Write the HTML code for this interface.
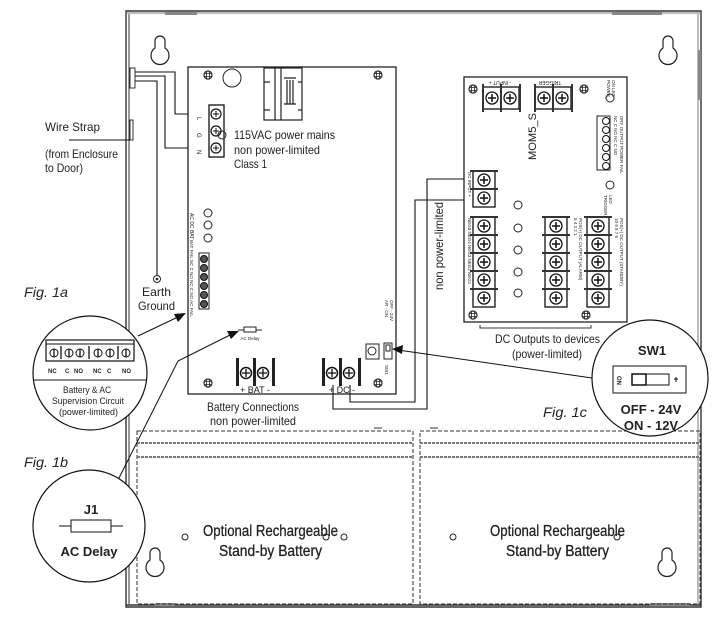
<!DOCTYPE html>
<html><head><meta charset="utf-8"><style>
html,body{margin:0;padding:0;background:#fff;}
svg{display:block;}
text{font-family:"Liberation Sans",sans-serif;fill:#222;}
</style></head><body>
<svg width="728" height="624" viewBox="0 0 728 624" xmlns="http://www.w3.org/2000/svg">
<defs>
<g id="t">
<rect x="0" y="0" width="22" height="18" fill="#fff" stroke="#111" stroke-width="1.3"/>
<rect x="-3" y="-1" width="28" height="2" fill="#333"/>
<circle cx="11" cy="9" r="6" fill="#fff" stroke="#111" stroke-width="1.3"/>
<path d="M7 9h8M11 5v8" stroke="#111" stroke-width="1.5"/>
</g>
<g id="tv">
<rect x="0" y="0" width="18" height="22" fill="#fff" stroke="#111" stroke-width="1.3"/>
<rect x="-1" y="-3" width="2" height="28" fill="#333"/>
<circle cx="9" cy="11" r="6" fill="#fff" stroke="#111" stroke-width="1.3"/>
<path d="M5 11h8M9 7v8" stroke="#111" stroke-width="1.5"/>
</g>
<g id="kh"><path d="M-5 -4 A5 5 0 0 1 5 -4 L5 3 A9 9 0 1 1 -5 3 Z" fill="none" stroke="#222" stroke-width="1.2"/></g>
<g id="scr"><circle r="4" fill="none" stroke="#222" stroke-width="1.2"/><path d="M-3 -1.5h6M-3 1.5h6M-1.5 -3v6M1.5 -3v6" stroke="#222" stroke-width="0.8"/></g>
</defs>

<!-- enclosure -->
<g fill="none" stroke="#333">
<path d="M126 11 H701 V607 H126 Z" stroke-width="1.4"/>
<path d="M129 14 V604" stroke-width="1"/>
<path d="M126 13 H701" stroke-width="1" stroke="#777"/>
<path d="M126 605 H701" stroke-width="1.5"/>
<path d="M698 14 V604" stroke-width="1" stroke="#777"/>
</g>
<rect x="165" y="12" width="32" height="3" fill="#888"/>
<rect x="612" y="12" width="50" height="3" fill="#888"/>
<rect x="698" y="50" width="3" height="50" fill="#888"/>
<rect x="130" y="68" width="5" height="20" fill="none" stroke="#333"/>
<rect x="130" y="120" width="3" height="20" fill="none" stroke="#333"/>
<rect x="155" y="603" width="20" height="3" fill="#888"/>
<rect x="650" y="603" width="40" height="3" fill="#888"/>
<use href="#kh" x="160" y="45"/>
<use href="#kh" x="668" y="45"/>
<use href="#kh" x="155" y="557"/>
<use href="#kh" x="667" y="557"/>

<!-- wires to mains -->
<g fill="none" stroke="#111" stroke-width="1.1">
<path d="M135 72 H175 V114 H207"/>
<path d="M135 76 H165 V148 H207"/>
<path d="M135 81 H157 V276"/>
<path d="M69 140 H130"/>
</g>
<circle cx="157" cy="279" r="3.5" fill="none" stroke="#222"/><circle cx="157" cy="279" r="1.3" fill="#222"/>
<text x="45" y="131" font-size="12" textLength="55" lengthAdjust="spacingAndGlyphs">Wire Strap</text>
<text x="45" y="158" font-size="12" textLength="73" lengthAdjust="spacingAndGlyphs">(from Enclosure</text>
<text x="45" y="172" font-size="12" textLength="38" lengthAdjust="spacingAndGlyphs">to Door)</text>
<text x="142" y="296" font-size="12" textLength="29" lengthAdjust="spacingAndGlyphs">Earth</text>
<text x="138" y="310" font-size="12" textLength="37" lengthAdjust="spacingAndGlyphs">Ground</text>

<!-- main PCB -->
<rect x="188" y="67" width="208" height="327" fill="#fff" stroke="#222" stroke-width="1.3"/>
<use href="#scr" x="208" y="75"/><use href="#scr" x="378" y="75"/>
<use href="#scr" x="208" y="383"/><use href="#scr" x="378" y="383"/>
<circle cx="232" cy="78" r="9" fill="none" stroke="#222"/>
<g fill="none" stroke="#222" stroke-width="1.2">
<rect x="264" y="68" width="38" height="52"/>
<path d="M275 68V120M281 68V120M270 82H264M302 82H298M270 110H264M302 110H298"/>
<path d="M284 78H296M284 104H296M287 80V104M290 80V104M293 80V104"/>
</g>
<rect x="209" y="105" width="15" height="52" fill="#fff" stroke="#111" stroke-width="1.3"/>
<g fill="#fff" stroke="#111" stroke-width="1.2">
<circle cx="216" cy="114" r="5"/><circle cx="216" cy="131" r="5"/><circle cx="216" cy="148" r="5"/></g>
<path d="M213 114h6M216 111v6M213 131h6M216 128v6M213 148h6M216 145v6" stroke="#111"/>
<circle cx="222" cy="135" r="4" fill="none" stroke="#222"/>
<text x="197" y="117" font-size="6" transform="rotate(90 197 117)">L</text>
<text x="197" y="133" font-size="6" transform="rotate(90 197 133)">G</text>
<text x="197" y="150" font-size="6" transform="rotate(90 197 150)">N</text>
<text x="234" y="139" font-size="12" textLength="101" lengthAdjust="spacingAndGlyphs">115VAC power mains</text>
<text x="234" y="154" font-size="12" textLength="86" lengthAdjust="spacingAndGlyphs">non power-limited</text>
<text x="234" y="168" font-size="12" textLength="33" lengthAdjust="spacingAndGlyphs">Class 1</text>
<circle cx="208" cy="213" r="4" fill="none" stroke="#222"/>
<circle cx="208" cy="225" r="4" fill="none" stroke="#222"/>
<circle cx="208" cy="238" r="4" fill="none" stroke="#222"/>
<text x="190" y="213" font-size="5" transform="rotate(90 190 213)">AC DC BAT</text>
<text x="190" y="240" font-size="4.5" transform="rotate(90 190 240)">BAT FAIL  NC C NO NC C NO AC FAIL</text>
<rect x="199" y="253" width="10" height="56" fill="#fff" stroke="#222"/>
<g fill="#555" stroke="#111"><circle cx="204" cy="259" r="3.5"/><circle cx="204" cy="268" r="3.5"/><circle cx="204" cy="277" r="3.5"/><circle cx="204" cy="286" r="3.5"/><circle cx="204" cy="295" r="3.5"/><circle cx="204" cy="304" r="3.5"/></g>
<path d="M238 330H244M256 330H262" stroke="#222"/>
<rect x="244" y="327" width="12" height="5" fill="#fff" stroke="#222"/>
<text x="250" y="340" font-size="4.5" text-anchor="middle">AC Delay</text>
<g fill="#222"><rect x="236" y="358" width="3" height="28"/><rect x="253" y="358" width="3" height="28"/><rect x="272" y="358" width="3" height="28"/>
<rect x="322" y="358" width="3" height="28"/><rect x="339" y="358" width="3" height="28"/><rect x="358" y="358" width="3" height="28"/></g>
<g fill="#fff" stroke="#111" stroke-width="1.5"><circle cx="246" cy="373" r="5.5"/><circle cx="263" cy="373" r="5.5"/><circle cx="332" cy="373" r="5.5"/><circle cx="349" cy="373" r="5.5"/></g>
<path d="M242 373h8M246 369v8M259 373h8M263 369v8M328 373h8M332 369v8M345 373h8M349 369v8" stroke="#111" stroke-width="1.3"/>
<text x="255" y="393" font-size="9" text-anchor="middle">+ BAT -</text>
<text x="342" y="393" font-size="9" text-anchor="middle">+ DC -</text>
<text x="207" y="411" font-size="12" textLength="92" lengthAdjust="spacingAndGlyphs">Battery Connections</text>
<text x="210" y="425" font-size="12" textLength="86" lengthAdjust="spacingAndGlyphs">non power-limited</text>
<rect x="366" y="344" width="13" height="15" fill="#fff" stroke="#222"/><circle cx="372" cy="351" r="4" fill="none" stroke="#222"/>
<rect x="384" y="343" width="8" height="16" fill="#fff" stroke="#222"/><rect x="386" y="345" width="4" height="6" fill="none" stroke="#222"/>
<text x="385" y="300" font-size="4.5" transform="rotate(90 385 300)">AR - ON</text>
<text x="390" y="300" font-size="4.5" transform="rotate(90 390 300)">OFF - 24V</text>
<text x="385" y="365" font-size="4.5" transform="rotate(90 385 365)">SW1</text>

<!-- DC wires -->
<g fill="none" stroke="#111" stroke-width="1.1">
<path d="M333 385 V409 H427 V179 H470"/>
<path d="M350 385 V402 H415 V200 H470"/>
</g>
<text x="443" y="290" font-size="12" transform="rotate(-90 443 290)" textLength="88" lengthAdjust="spacingAndGlyphs">non power-limited</text>

<!-- MOM5 board -->
<rect x="464" y="77" width="163" height="245" fill="#fff" stroke="#222" stroke-width="1.3"/>
<use href="#scr" x="473" y="89"/><use href="#scr" x="584" y="89"/>
<use href="#scr" x="473" y="315"/><use href="#scr" x="586" y="315"/>
<use href="#tv" x="483" y="87"/><use href="#tv" x="501" y="87"/>
<use href="#tv" x="535" y="87"/><use href="#tv" x="553" y="87"/>
<rect x="519" y="84" width="2" height="28" fill="#333"/><rect x="571" y="84" width="2" height="28" fill="#333"/>
<text x="500" y="81" font-size="5" transform="rotate(180 500 81)" text-anchor="middle">- INPUT +</text>
<text x="550" y="81" font-size="5" transform="rotate(180 550 81)" text-anchor="middle">TRIGGER</text>
<circle cx="610" cy="98" r="4" fill="none" stroke="#222"/>
<text x="607" y="80" font-size="4.5" transform="rotate(90 607 80)">POWER</text>
<text x="612" y="80" font-size="4.5" transform="rotate(90 612 80)">ON LED</text>
<text x="536" y="160" font-size="11" transform="rotate(-90 536 160)" textLength="47" lengthAdjust="spacingAndGlyphs">MOM5_S</text>
<rect x="597" y="116" width="13" height="54" fill="#fff" stroke="#222"/>
<g fill="#fff" stroke="#111"><circle cx="606" cy="121" r="3.5"/><circle cx="606" cy="130" r="3.5"/><circle cx="606" cy="139" r="3.5"/><circle cx="606" cy="148" r="3.5"/><circle cx="606" cy="157" r="3.5"/><circle cx="606" cy="166" r="3.5"/></g>
<text x="614" y="116" font-size="4.5" transform="rotate(90 614 116)">NC C NO NC C NO</text>
<text x="620" y="116" font-size="4.5" transform="rotate(90 620 116)">DRY OUTPUT POWER FAIL</text>
<circle cx="610" cy="185" r="4" fill="none" stroke="#222"/>
<text x="604" y="195" font-size="4.5" transform="rotate(90 604 195)">TRIGGER</text>
<text x="609" y="195" font-size="4.5" transform="rotate(90 609 195)">LED</text>
<use href="#t" x="473" y="171"/><use href="#t" x="473" y="189"/>
<text x="468" y="172" font-size="4.5" transform="rotate(90 468 172)">DC INPUT +</text>
<use href="#t" x="473" y="217"/><use href="#t" x="473" y="235"/><use href="#t" x="473" y="253"/><use href="#t" x="473" y="271"/><use href="#t" x="473" y="289"/>
<text x="468" y="218" font-size="4.5" transform="rotate(90 468 218)">NEG5 NEG4 NEG3 NEG2 NEG1</text>
<g fill="none" stroke="#222"><circle cx="518" cy="205" r="4"/><circle cx="518" cy="228" r="4"/><circle cx="518" cy="250" r="4"/><circle cx="518" cy="272" r="4"/><circle cx="518" cy="293" r="4"/></g>
<use href="#t" x="545" y="217"/><use href="#t" x="545" y="235"/><use href="#t" x="545" y="253"/><use href="#t" x="545" y="271"/><use href="#t" x="545" y="289"/>
<use href="#t" x="587" y="217"/><use href="#t" x="587" y="235"/><use href="#t" x="587" y="253"/><use href="#t" x="587" y="271"/><use href="#t" x="587" y="289"/>
<text x="574" y="218" font-size="4.5" transform="rotate(90 574 218)">5 4 3 2 1</text>
<text x="579" y="218" font-size="4.5" transform="rotate(90 579 218)">POS(+) DC OUTPUT (ALARM)</text>
<text x="615" y="218" font-size="4.5" transform="rotate(90 615 218)">10 9 8 7 6</text>
<text x="620" y="218" font-size="4.5" transform="rotate(90 620 218)">POS(+) DC OUTPUT (STANDBY)</text>
<path d="M480 325 V328 H591 V325" fill="none" stroke="#333"/>
<text x="495" y="343" font-size="12" textLength="105" lengthAdjust="spacingAndGlyphs">DC Outputs to devices</text>
<text x="512" y="358" font-size="12" textLength="70" lengthAdjust="spacingAndGlyphs">(power-limited)</text>

<!-- batteries -->
<g fill="none" stroke="#333" stroke-width="1" stroke-dasharray="4 2">
<rect x="137" y="431" width="276" height="173"/>
<rect x="420" y="431" width="280" height="173"/>
<path d="M137 443 H413 M137 457 H413 M420 443 H700 M420 457 H700" stroke="#777" stroke-width="2" stroke-dasharray="3 1"/>
</g>
<path d="M374 428h8M430 428h8" stroke="#333"/>
<g fill="none" stroke="#222"><circle cx="185" cy="537" r="3"/><circle cx="326" cy="537" r="3"/><circle cx="344" cy="537" r="3"/><circle cx="453" cy="537" r="3"/><circle cx="617" cy="537" r="3"/></g>
<g stroke="#222" stroke-width="0.3">
<text x="203" y="536" font-size="16" textLength="135" lengthAdjust="spacingAndGlyphs">Optional Rechargeable</text>
<text x="219" y="556" font-size="16" textLength="103" lengthAdjust="spacingAndGlyphs">Stand-by Battery</text>
<text x="490" y="536" font-size="16" textLength="135" lengthAdjust="spacingAndGlyphs">Optional Rechargeable</text>
<text x="506" y="556" font-size="16" textLength="103" lengthAdjust="spacingAndGlyphs">Stand-by Battery</text>
</g>

<!-- callouts -->
<g fill="none" stroke="#111" stroke-width="1">
<path d="M138 336 L180 316"/>
<path d="M118 480 L178 361 L232 334"/>
<path d="M592 378 L398 350"/>
</g>
<path d="M186 313 L174 314 L178 322 Z" fill="#111"/>
<path d="M239 331 L227 331 L231 339 Z" fill="#111"/>
<path d="M392 349 L403 345 L402 354 Z" fill="#111"/>

<!-- Fig 1a -->
<text x="24" y="297" font-size="14" font-style="italic" textLength="44" lengthAdjust="spacingAndGlyphs">Fig. 1a</text>
<circle cx="90" cy="373" r="57" fill="#fff" stroke="#111" stroke-width="1.2"/>
<path d="M34 380 H146" stroke="#111"/>
<rect x="46" y="340" width="88" height="21" fill="#fff" stroke="#111" stroke-width="1.2"/>
<path d="M46 344 H134" stroke="#111"/>
<g fill="#fff" stroke="#111"><circle cx="54" cy="353" r="4"/><circle cx="69" cy="353" r="4"/><circle cx="80" cy="353" r="4"/><circle cx="98" cy="353" r="4"/><circle cx="110" cy="353" r="4"/><circle cx="126" cy="353" r="4"/></g>
<path d="M54 349v8M69 349v8M80 349v8M98 349v8M110 349v8M126 349v8M61 346v13M89 346v13M118 346v13" stroke="#111" stroke-width="1.3"/>
<text x="48" y="373" font-size="6" font-weight="bold">NC</text><text x="65" y="373" font-size="6" font-weight="bold">C</text><text x="74" y="373" font-size="6" font-weight="bold">NO</text>
<text x="93" y="373" font-size="6" font-weight="bold">NC</text><text x="107" y="373" font-size="6" font-weight="bold">C</text><text x="122" y="373" font-size="6" font-weight="bold">NO</text>
<text x="63" y="393" font-size="9.5" textLength="48" lengthAdjust="spacingAndGlyphs">Battery &amp; AC</text>
<text x="52" y="404" font-size="9.5" textLength="72" lengthAdjust="spacingAndGlyphs">Supervision Circuit</text>
<text x="59" y="415" font-size="9.5" textLength="59" lengthAdjust="spacingAndGlyphs">(power-limited)</text>

<!-- Fig 1b -->
<text x="24" y="467" font-size="14" font-style="italic" textLength="44" lengthAdjust="spacingAndGlyphs">Fig. 1b</text>
<circle cx="89" cy="526" r="56" fill="#fff" stroke="#111" stroke-width="1.2"/>
<text x="91" y="514" font-size="13" font-weight="bold" text-anchor="middle">J1</text>
<path d="M59 526H71M111 526H123" stroke="#111"/>
<rect x="71" y="520" width="40" height="12" fill="#fff" stroke="#111"/>
<text x="89" y="556" font-size="13" font-weight="bold" text-anchor="middle">AC Delay</text>

<!-- Fig 1c -->
<text x="543" y="417" font-size="14" font-style="italic" textLength="44" lengthAdjust="spacingAndGlyphs">Fig. 1c</text>
<circle cx="650" cy="378" r="58" fill="#fff" stroke="#111" stroke-width="1.2"/>
<text x="652" y="355" font-size="13" font-weight="bold" text-anchor="middle">SW1</text>
<rect x="613" y="366" width="73" height="27" fill="#fff" stroke="#111"/>
<rect x="632" y="374" width="37" height="11" fill="#fff" stroke="#111"/>
<rect x="632" y="374" width="14" height="11" fill="#fff" stroke="#111" stroke-width="1.5"/>
<text x="617" y="376" font-size="6" font-weight="bold" transform="rotate(90 617 376)">ON</text>
<path d="M674 379h4M676 377v5" stroke="#111"/>
<text x="651" y="414" font-size="13" font-weight="bold" text-anchor="middle">OFF - 24V</text>
<text x="651" y="430" font-size="13" font-weight="bold" text-anchor="middle">ON - 12V</text>
</svg>
</body></html>
